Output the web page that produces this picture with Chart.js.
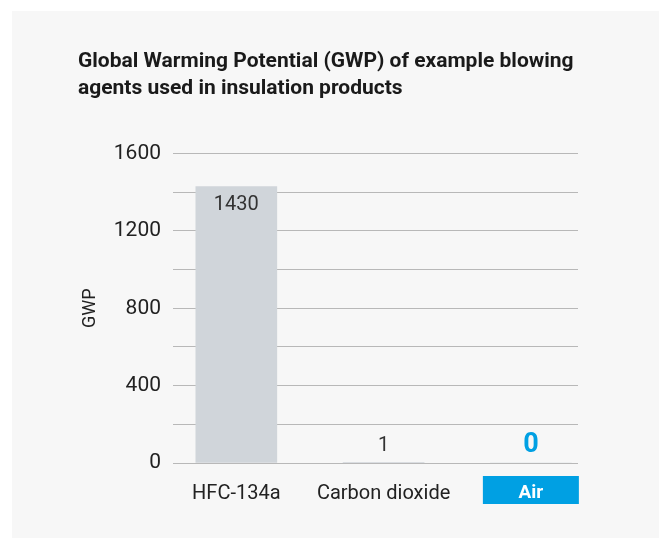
<!DOCTYPE html>
<html>
<head>
<meta charset="utf-8">
<script src="https://cdn.jsdelivr.net/npm/chart.js@4"></script>
<style>
  html, body { margin: 0; padding: 0; background: #fff; }
  #panel { position: absolute; left: 12px; top: 11px; right: 0; bottom: 0; background: #f7f7f7; }
  #wrap { position: absolute; left: 0; top: 0; width: 659px; height: 538px; }
</style>
</head>
<body>
<div id="panel"></div>
<div id="wrap"><canvas id="gwpChart" width="659" height="538"></canvas></div>
<script>
var categories = ['HFC-134a', 'Carbon dioxide', 'Air'];
var gwpValues = [1430, 1, 0];
var valueLabels = ['1430', '1', '0'];
var yTicks = [0, 400, 800, 1200, 1600];

var barGrey = 'rgb(208, 213, 218)';
var highlightBlue = 'rgb(0, 160, 227)';
var textDark = '#222';

// blue box behind the "Air" label, drawn before the tick labels
var airBox = {
    id: 'airBox',
    beforeDraw: function(chart) {
        var ctx = chart.ctx;
        var x = chart.scales.x.getPixelForValue(2);
        var top = chart.chartArea.bottom + 13;
        ctx.save();
        ctx.fillStyle = highlightBlue;
        ctx.fillRect(x - 48, top, 96, 28);
        ctx.restore();
    }
};

// value labels on the bars
var barValues = {
    id: 'barValues',
    afterDatasetsDraw: function(chart) {
        var ctx = chart.ctx;
        var meta = chart.getDatasetMeta(0);
        ctx.save();
        ctx.textAlign = 'center';
        ctx.textBaseline = 'middle';
        meta.data.forEach(function(bar, i) {
            if (i === 0) {
                ctx.font = '20px Roboto';
                ctx.fillStyle = '#333';
                ctx.fillText(valueLabels[i], bar.x, bar.y + 19);
            } else if (i === 1) {
                ctx.font = '20px Roboto';
                ctx.fillStyle = '#333';
                ctx.fillText(valueLabels[i], bar.x, bar.y - 17);
            } else {
                ctx.font = 'bold 27px Roboto';
                ctx.fillStyle = highlightBlue;
                ctx.fillText(valueLabels[i], bar.x, bar.y - 18);
            }
        });
        ctx.restore();
    }
};

var ctxBar = document.getElementById('gwpChart').getContext('2d');
var gwpChart = new Chart(ctxBar, {
    type: 'bar',
    data: {
        datasets: [{
            data: gwpValues.map(function(v, i) { return { x: i, y: v }; }),
            backgroundColor: barGrey,
            borderWidth: 0,
            barThickness: 81
        }]
    },
    options: {
        responsive: false,
        animation: false,
        layout: { padding: { left: 78, right: 81, top: 0, bottom: 21 } },
        plugins: {
            legend: { display: false },
            tooltip: { enabled: false },
            title: {
                display: true,
                text: ['Global Warming Potential (GWP) of example blowing', 'agents used in insulation products'],
                align: 'start',
                color: '#1a1a1a',
                font: { family: 'Roboto', size: 21, weight: 'bold', lineHeight: 1.3 },
                padding: { top: 48, bottom: 51 }
            }
        },
        scales: {
            x: {
                type: 'linear',
                offset: false,
                min: -0.43,
                max: 2.32,
                grid: { display: false },
                border: { display: false },
                afterBuildTicks: function(scale) {
                    scale.ticks = categories.map(function(c, i) { return { value: i }; });
                },
                ticks: {
                    padding: 11,
                    autoSkip: false,
                    maxRotation: 0,
                    color: function(c) { return c.index === 2 ? '#fff' : textDark; },
                    font: function(c) {
                        return c.index === 2
                            ? { family: 'Roboto', size: 19, weight: 'bold' }
                            : { family: 'Roboto', size: 20 };
                    },
                    callback: function(v) { return categories[v]; }
                }
            },
            y: {
                min: 0,
                max: 1600,
                afterFit: function(scale) { scale.width = 95; },
                grid: { color: '#b8b8b8', lineWidth: 1, drawTicks: false },
                border: { display: false },
                ticks: {
                    stepSize: 200,
                    padding: 12,
                    color: textDark,
                    font: { family: 'Roboto', size: 21 },
                    callback: function(v) { return yTicks.indexOf(v) >= 0 ? String(v) : ''; }
                },
                title: {
                    display: true,
                    text: 'GWP',
                    color: textDark,
                    font: { family: 'Roboto', size: 18 },
                    padding: { top: 2, bottom: 0 }
                }
            }
        }
    },
    plugins: [airBox, barValues]
});
</script>
</body>
</html>
